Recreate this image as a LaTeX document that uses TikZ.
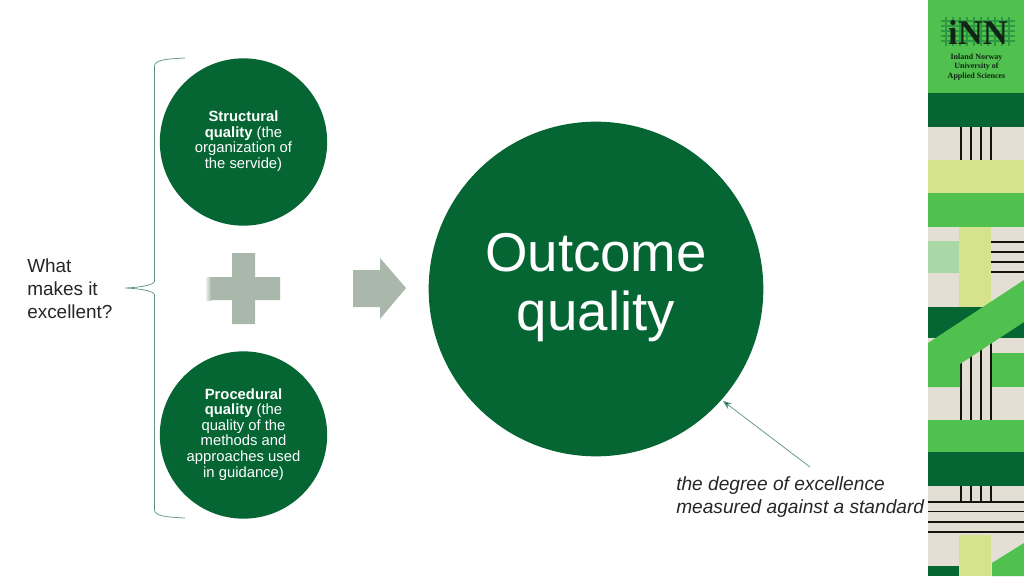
\documentclass[tikz,border=0pt]{standalone}
\usepackage{fontspec}
\setmainfont{Liberation Sans}
\newfontfamily\logofont{Liberation Serif}
\usetikzlibrary{arrows.meta}
\definecolor{innDark}{HTML}{056634}
\definecolor{innGreen}{HTML}{50C14F}
\definecolor{innBeige}{HTML}{E3DFD5}
\definecolor{innYellow}{HTML}{D5E38F}
\definecolor{innPale}{HTML}{A9D8A6}
\definecolor{innGrey}{HTML}{A9B8AA}
\definecolor{innLine}{HTML}{5F9484}
\definecolor{innInk}{HTML}{14140F}
\newcommand{\smalltext}[1]{\raisebox{-1.6pt}{\begin{tabular}{@{}c@{}}#1\end{tabular}}}
\tikzset{
  small circle/.style={circle,fill=innDark,minimum size=125.5pt,inner sep=0pt,text=white,
    font=\fontsize{11.1}{11.7}\selectfont},
  big circle/.style={circle,fill=innDark,minimum size=251pt,inner sep=0pt,text=white,
    font=\fontsize{41}{44.5}\selectfont},
  note/.style={anchor=west,align=left,inner sep=0pt,text=black!85,font=\fontsize{14.2}{17.3}\selectfont},
  thin link/.style={draw=innLine,line width=0.55pt},
  inkline/.style={draw=innInk,line width=1.4pt},
  logo/.style={inner sep=0pt,text=innInk!80!innDark,align=center},
}
\begin{document}
\begin{tikzpicture}[x=0.75pt,y=-0.75pt]
\useasboundingbox (0,0) rectangle (1024,576);
\fill[white] (0,0) rectangle (1024,576);
% sidebar bands
\fill[innBeige] (928,0) rectangle (1024,576);
\fill[innGreen] (928,0) rectangle (1024,93);
\fill[innDark] (928,93) rectangle (1024,127);
\fill[innYellow] (928,160) rectangle (1024,193);
\fill[innGreen] (928,193) rectangle (1024,227);
\fill[innPale] (928,241) rectangle (959,273);
\fill[innYellow] (959,227) rectangle (991,307);
\fill[innDark] (928,307) rectangle (1024,338);
\fill[innGreen] (991,353) rectangle (1024,387);
\fill[innGreen] (928,420) rectangle (1024,452);
\fill[innDark] (928,452) rectangle (1024,486);
\fill[innYellow] (959,535) rectangle (991,576);
\fill[innDark] (928,566) rectangle (959,576);
\fill[innGreen] (1024,543) -- (992,563) -- (992,576) -- (1024,576) -- cycle;
% vertical line groups
\foreach \x in {961,971,981,991} {
  \draw[inkline] (\x,127) -- (\x,160);
  \draw[inkline] (\x,340) -- (\x,420);
  \draw[inkline] (\x,486) -- (\x,502);
}
% horizontal line groups
\foreach \y in {242,252,262,272} \draw[inkline] (991,\y) -- (1024,\y);
\foreach \y in {502,511.5,522,532} \draw[inkline] (928,\y) -- (1024,\y);
% diagonal band
\fill[innGreen] (1024,280) -- (928,343) -- (928,387) -- (960,387) -- (960,364) -- (1024,322) -- cycle;
% logo
\foreach \y in {21,26,31,36,41} \draw[innDark!45!innGreen,line width=1.3pt] (941,\y) -- (1015,\y);
\foreach \x in {946,953,960,967,974,981,988,995,1002,1009} \draw[innDark!45!innGreen,line width=1.2pt] (\x,17) -- (\x,46);
\node[logo,font=\logofont\bfseries\fontsize{26}{26}\selectfont] (logomark) at (978,32) {iNN};
\node[logo,font=\logofont\bfseries\fontsize{6}{7}\selectfont] (logotext) at (976.5,67) {Inland Norway\\University of\\Applied Sciences};
% circles
\node[small circle] (structural) at (243.5,142) {\smalltext{\textbf{Structural}\\\textbf{quality} (the\\organization of\\the servide)}};
\node[small circle] (procedural) at (243.5,435) {\smalltext{\textbf{Procedural}\\\textbf{quality} (the\\quality of the\\methods and\\approaches used\\in guidance)}};
\node[big circle] (outcome) at (596,289) {\raisebox{-12.4pt}{\begin{tabular}{@{}c@{}}Outcome\\quality\end{tabular}}};
% plus and arrow
\fill[innGrey] (232,253) -- (255,253) -- (255,277) -- (280,277) -- (280,300) -- (255,300) -- (255,324) -- (232,324) -- (232,300) -- (211,300) -- (211,277) -- (232,277) -- cycle;
\shade[left color=innGrey!30,right color=innGrey] (206.5,277) rectangle (211,300);
\fill[innGrey] (353,270) -- (380,270) -- (380,258) -- (406,288) -- (380,319) -- (380,307) -- (353,307) -- cycle;
% texts
\node[note] (what) at (27,289) {What\\makes it\\excellent?};
\node[note,font=\itshape\fontsize{14.35}{17.3}\selectfont] (degree) at (676,497) {the degree of excellence\\measured against a standard};
% brace
\coordinate (braceTop) at (185,58);
\coordinate (braceTip) at (125,288);
\coordinate (braceBottom) at (185,518);
\draw[thin link] (braceTop) .. controls (165,59) and (155,60) .. (154.5,66) -- (154.5,281)
  .. controls (154.5,285) and (140,287.5) .. (braceTip)
  .. controls (140,288.5) and (154.5,291) .. (154.5,295) -- (154.5,510)
  .. controls (155,516) and (165,517) .. (braceBottom);
% callout arrow
\coordinate (calloutTail) at (810,467);
\coordinate (calloutTip) at (723,401);
\draw[thin link,-{Stealth[length=6.5pt,width=5pt,fill=innDark]}] (calloutTail) -- (calloutTip);
\end{tikzpicture}
\end{document}
